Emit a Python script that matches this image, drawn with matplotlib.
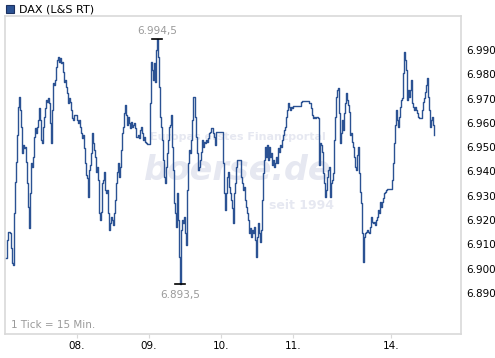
import numpy as np
import matplotlib
matplotlib.use("Agg")
import matplotlib.pyplot as plt
from matplotlib.patches import Rectangle

# DAX (L&S RT), one value per 15-minute tick
dax = [
    # 07.
    6904.4, 6911.8, 6915.1, 6915.1, 6914.7, 6908.5, 6902.4, 6901.5, 6922.9, 6935.7,
    6943.9, 6955.0, 6966.5, 6970.7, 6965.3, 6958.3, 6947.6, 6950.9, 6949.7, 6950.1,
    6943.9, 6935.3, 6925.4, 6916.8, 6931.2, 6943.5, 6941.9, 6946.0, 6954.2, 6957.9,
    6955.8, 6958.3, 6961.2, 6966.1, 6961.2, 6953.0, 6951.7, 6958.3, 6962.4, 6966.1,
    6969.4, 6968.6, 6970.2, 6968.2, 6960.0, 6951.7, 6965.3, 6976.4, 6975.6, 6977.7,
    6983.0, 6985.9, 6987.1, 6985.1, 6986.7, 6984.7, 6985.1, 6980.9, 6976.8, 6977.7,
    6974.8, 6972.3, 6968.2, 6970.2, 6968.6, 6965.3, 6962.0, 6961.2, 6963.3, 6963.3,
    # 08.
    6963.3, 6961.2, 6960.0, 6961.2, 6958.3, 6955.8, 6953.8, 6955.0, 6949.7, 6943.5,
    6938.6, 6937.3, 6929.5, 6940.6, 6942.7, 6947.6, 6955.8, 6951.7, 6948.9, 6946.0,
    6939.8, 6941.9, 6936.5, 6922.9, 6920.0, 6923.3, 6935.3, 6936.5, 6939.8, 6932.4,
    6931.2, 6932.4, 6922.9, 6915.9, 6918.8, 6921.3, 6920.0, 6918.0, 6922.9, 6928.3,
    6935.3, 6939.8, 6943.5, 6937.7, 6941.9, 6948.9, 6955.8, 6958.3, 6964.1, 6967.4,
    6963.3, 6959.1, 6962.4, 6960.0, 6957.9, 6960.4, 6958.3, 6959.1, 6960.0, 6957.9,
    6954.2, 6954.2, 6955.0, 6953.8, 6957.1, 6958.3, 6955.8, 6953.0, 6954.2, 6952.1,
    6951.7, 6951.3, 6951.3, 6951.3,
    # 09.
    6968.2, 6985.1, 6981.8, 6977.7, 6984.7, 6976.8, 6990.0, 6994.5, 6987.1, 6974.8,
    6962.4, 6958.3, 6953.0, 6944.7, 6937.7, 6935.3, 6941.9, 6947.6, 6953.0, 6958.3,
    6959.1, 6963.3, 6950.1, 6940.6, 6927.0, 6922.9, 6917.2, 6931.2, 6920.0, 6904.8,
    6893.5, 6915.9, 6920.0, 6918.8, 6921.3, 6914.7, 6909.8, 6932.4, 6943.5, 6948.9,
    6947.6, 6953.0, 6961.2, 6970.7, 6970.7, 6962.4, 6954.2, 6947.6, 6940.6, 6941.9,
    6944.7, 6948.0, 6953.0, 6950.1, 6952.1, 6951.7, 6953.0, 6952.1, 6953.8, 6955.8,
    6956.3, 6957.9, 6957.9, 6955.8, 6954.2, 6950.9, 6956.3, 6956.3, 6956.3, 6956.3,
    # 10.
    6956.3, 6956.3, 6956.3, 6943.5, 6931.2, 6924.2, 6931.2, 6937.7, 6939.8, 6933.6,
    6931.2, 6928.3, 6925.0, 6918.8, 6931.2, 6935.3, 6941.9, 6944.7, 6944.7, 6944.7,
    6944.7, 6937.7, 6935.3, 6932.4, 6933.6, 6928.3, 6925.4, 6922.9, 6920.0, 6914.7,
    6916.8, 6913.0, 6915.9, 6914.7, 6917.2, 6911.8, 6904.8, 6913.0, 6918.8, 6914.7,
    6911.0, 6915.9, 6928.3, 6939.4, 6944.7, 6950.1, 6946.0, 6950.9, 6944.7, 6950.1,
    6946.0, 6947.6, 6942.7, 6944.7, 6941.9, 6943.5, 6946.0, 6943.5, 6949.7, 6948.0,
    6950.9, 6950.1, 6953.0, 6955.0, 6957.1, 6958.3, 6962.4, 6965.3, 6968.2, 6966.5,
    # 11.
    6965.3, 6966.5, 6966.1,
    6967.0, 6967.0, 6967.0, 6967.0, 6967.0, 6967.0, 6967.0, 6967.0, 6968.6,
    6969.0, 6969.0, 6969.0, 6969.0, 6969.0, 6969.0, 6969.0,
    6968.2, 6968.2, 6966.1, 6963.3, 6962.0, 6962.4, 6962.0, 6962.4, 6962.4, 6962.0,
    6942.7, 6951.7, 6950.9, 6948.0, 6939.4, 6935.3, 6929.5, 6932.4, 6937.7, 6940.6,
    6941.9, 6929.5, 6935.3, 6936.5, 6939.4, 6953.0, 6962.4, 6970.7, 6973.5, 6974.4,
    6964.1, 6951.7, 6955.8, 6961.2, 6957.1, 6964.1, 6968.2, 6972.3, 6969.4, 6967.4,
    6964.5, 6955.0, 6955.8, 6952.1, 6950.1, 6946.0, 6941.9, 6940.6, 6946.8, 6950.1,
    6939.4, 6931.6, 6927.0, 6914.7,
    # 14.
    6902.8, 6913.0, 6914.7, 6915.1, 6915.9, 6915.1,
    6914.7, 6917.2, 6921.3, 6919.2, 6918.8, 6919.2, 6918.0, 6920.0, 6921.3, 6924.2,
    6922.9, 6927.5, 6925.4, 6927.5, 6929.1, 6931.2, 6931.6, 6932.4, 6932.8, 6932.8,
    6932.8, 6932.8, 6932.8, 6936.5, 6943.5, 6951.7, 6959.1, 6965.3, 6961.2, 6958.3,
    6962.4, 6966.5, 6969.4, 6970.2, 6980.5, 6989.2, 6985.9, 6981.8, 6969.4, 6973.5,
    6970.7, 6973.5, 6977.7, 6968.2, 6966.5, 6965.3, 6966.5, 6965.3, 6964.1, 6962.4,
    6962.0, 6962.0, 6962.0, 6965.3, 6968.6, 6970.2, 6972.7, 6975.6, 6978.5, 6970.7,
    6965.3, 6958.3, 6961.2, 6962.4, 6959.1, 6955.0,
]
day_ticks = [71, 143, 215, 287, 385]
day_labels = ["08.", "09.", "10.", "11.", "14."]
y_ticks = [6890, 6900, 6910, 6920, 6930, 6940, 6950, 6960, 6970, 6980, 6990]

LINE = "#2b5293"
FRAME = "#d9d9d9"
GRAY = "#9a9a9a"
WM = "#e6e8f1"

plt.rcParams["font.family"] = ["DejaVu Sans"]

W, H = 495, 358
fig = plt.figure(figsize=(W / 100, H / 100), dpi=100)
ax = fig.add_axes([5 / W, 24 / H, 456 / W, 318 / H])

x = np.arange(len(dax))
y = np.array(dax)

# watermark
ax.text(0.51, 0.62, "Europas erstes Finanzportal", transform=ax.transAxes,
        ha="center", va="center", fontsize=8, fontweight="bold", color=WM,
        zorder=0)
ax.text(0.51, 0.515, "boerse.de", transform=ax.transAxes, ha="center",
        va="center", fontsize=24, fontweight="bold", fontstyle="italic",
        color=WM, zorder=0)
ax.text(0.65, 0.405, "seit 1994", transform=ax.transAxes, ha="center",
        va="center", fontsize=9, fontweight="bold", color=WM, zorder=0)

ax.plot(x, y, color=LINE, lw=1.0, drawstyle="steps-mid", zorder=3)

# high / low markers
i_hi, i_lo = int(np.argmax(y)), int(np.argmin(y))
for i, off, va in [(i_hi, 2, "bottom"), (i_lo, -4, "top")]:
    ax.plot([i - 5, i + 5], [y[i], y[i]], color="black", lw=1.2, zorder=4)
    lbl = f"{y[i]:,.1f}".replace(",", "X").replace(".", ",").replace("X", ".")
    ax.annotate(lbl, (i, y[i]), xytext=(0, off), textcoords="offset points",
                ha="center", va=va, fontsize=7.5, color=GRAY)

ax.set_xlim(-1, 455)
ax.set_ylim(6873.1, 7004.0)

ax.set_xticks(day_ticks)
ax.set_xticklabels(day_labels)
ax.set_yticks(y_ticks)
ax.set_yticklabels([f"{v / 1000:.3f}" for v in y_ticks])
ax.yaxis.tick_right()
ax.tick_params(axis="y", length=0, pad=4, labelsize=7.5, labelcolor="black")
ax.tick_params(axis="x", length=3, color=FRAME, pad=2, labelsize=7.5,
               labelcolor="black")

for s in ax.spines.values():
    s.set_color(FRAME)
    s.set_linewidth(1.2)

ax.text(0.013, 0.012, "1 Tick = 15 Min.", transform=ax.transAxes,
        ha="left", va="bottom", fontsize=7.5, color=GRAY)

# legend
fig.patches.append(Rectangle((6 / W, 1 - 13 / H), 8 / W, 8 / H,
                             transform=fig.transFigure, fc=LINE, ec="#1c3160",
                             lw=0.8))
fig.text(19 / W, 1 - 9.5 / H, "DAX (L&S RT)", ha="left", va="center",
         fontsize=8, color="black")

fig.savefig("out.png", dpi=100)
